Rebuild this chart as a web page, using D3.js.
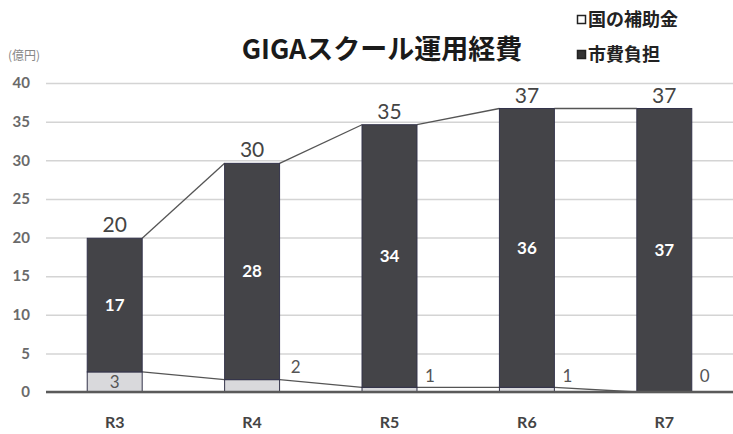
<!DOCTYPE html>
<html>
<head>
<meta charset="utf-8">
<script src="https://cdn.jsdelivr.net/npm/d3@7"></script>
<style>
  body { margin: 0; background: #fff; }
  svg { display: block; }
</style>
</head>
<body>
<div class="vis-chart"></div>
<script>
// data
const years = ["R3", "R4", "R5", "R6", "R7"];
const subsidy = [2.6, 1.6, 0.6, 0.6, 0];      // 国の補助金
const cityCost = [17.3, 28.0, 34.0, 36.1, 36.7]; // 市費負担
const yTicks = [0, 5, 10, 15, 20, 25, 30, 35, 40];

const W = 733, H = 434;
const margin = {top: 83, right: 0, bottom: 42, left: 46};
const width = W - margin.left - margin.right;
const height = H - margin.top - margin.bottom;
const numFont = "Lato, 'Noto Sans', sans-serif";
const jpFont = "'Noto Sans CJK JP', sans-serif";

let svg = d3.select('.vis-chart')
            .append('svg')
            .attr('width', W)
            .attr('height', H);

let g = svg.append("g")
           .attr("transform", "translate(" + margin.left + "," + margin.top + ")");

let xScale = d3.scaleBand()
        .domain(years)
        .range([0, width])
        .paddingInner(0.6)
        .paddingOuter(0.3);

let yScale = d3.scaleLinear()
        .domain([0, 40])
        .range([height, 0]);

// grid lines
g.append("g")
    .call(d3.axisLeft(yScale).tickValues(yTicks).tickSize(-width).tickFormat(""))
    .call(s => s.select(".domain").remove())
    .selectAll("line")
    .attr("stroke", "#d4d4d4")
    .attr("stroke-width", 1.5);

// y axis labels
g.append("g")
    .call(d3.axisLeft(yScale).tickValues(yTicks).tickSize(0).tickPadding(16))
    .call(s => s.select(".domain").remove())
    .selectAll("text")
    .style("font-family", numFont)
    .style("font-size", "15px")
    .style("font-weight", "bold")
    .attr("fill", "#6a6a6a");

// stacked data
let stack = years.map(function(d, i){
    return {year: d, s0: 0, s1: subsidy[i], c0: subsidy[i], c1: subsidy[i] + cityCost[i]};
});

// series lines (top-right of a segment to top-left of the next bar's segment)
const lineColor = "#555";
for (let i = 0; i < stack.length - 1; i++) {
    let a = stack[i], b = stack[i + 1];
    let x1 = xScale(a.year) + xScale.bandwidth();
    let x2 = xScale(b.year);
    g.append("line")
        .attr("x1", x1).attr("x2", x2)
        .attr("y1", yScale(a.s1)).attr("y2", yScale(b.s1))
        .attr("stroke", lineColor).attr("stroke-width", 1.3);
    g.append("line")
        .attr("x1", x1).attr("x2", x2)
        .attr("y1", yScale(a.c1)).attr("y2", yScale(b.c1))
        .attr("stroke", lineColor).attr("stroke-width", 1.3);
}

// subsidy segments
g.selectAll(".sub")
    .data(stack)
    .enter()
    .append("rect")
    .attr("class", "sub")
    .attr("x", d => xScale(d.year))
    .attr("width", xScale.bandwidth())
    .attr("y", d => yScale(d.s1))
    .attr("height", d => yScale(d.s0) - yScale(d.s1))
    .attr("fill", "#d9d9dc")
    .attr("stroke", "#33334a")
    .attr("stroke-width", 1);

// city segments
g.selectAll(".city")
    .data(stack)
    .enter()
    .append("rect")
    .attr("class", "city")
    .attr("x", d => xScale(d.year))
    .attr("width", xScale.bandwidth())
    .attr("y", d => yScale(d.c1))
    .attr("height", d => yScale(d.c0) - yScale(d.c1))
    .attr("fill", "#444448")
    .attr("stroke", "#33334a")
    .attr("stroke-width", 1);

// baseline
g.append("line")
    .attr("x1", 0).attr("x2", width)
    .attr("y1", yScale(0)).attr("y2", yScale(0))
    .attr("stroke", "#5a5a5a")
    .attr("stroke-width", 2.5);

const fmt = d3.format(".0f");

// city labels (inside)
g.selectAll(".cityLabel")
    .data(stack)
    .enter()
    .append("text")
    .attr("x", d => xScale(d.year) + xScale.bandwidth() / 2)
    .attr("y", d => (yScale(d.c0) + yScale(d.c1)) / 2)
    .attr("dy", "0.35em")
    .attr("text-anchor", "middle")
    .style("font-family", numFont)
    .style("font-size", "17px")
    .style("font-weight", "bold")
    .attr("fill", "#fff")
    .text(d => fmt(d.c1 - d.c0));

// subsidy labels: first inside, others to the right of the bar
g.selectAll(".subLabel")
    .data(stack)
    .enter()
    .append("text")
    .attr("x", (d, i) => i === 0 ? xScale(d.year) + xScale.bandwidth() / 2
                                 : xScale(d.year) + xScale.bandwidth() + (i === 1 ? 16 : 13))
    .attr("y", (d, i) => i === 0 ? (yScale(d.s0) + yScale(d.s1)) / 2
                                 : yScale(i === 1 ? 3.2 : 2.1))
    .attr("dy", "0.35em")
    .attr("text-anchor", "middle")
    .style("font-family", numFont)
    .style("font-size", "17px")
    .attr("fill", "#555")
    .text(d => fmt(d.s1 - d.s0));

// totals above bars
g.selectAll(".total")
    .data(stack)
    .enter()
    .append("text")
    .attr("x", d => xScale(d.year) + xScale.bandwidth() / 2)
    .attr("y", d => yScale(d.c1) - 6)
    .attr("text-anchor", "middle")
    .style("font-family", numFont)
    .style("font-size", "21px")
    .attr("fill", "#444")
    .text(d => fmt(d.c1));

// x labels
g.append("g")
    .attr("transform", "translate(0," + height + ")")
    .call(d3.axisBottom(xScale).tickSize(0).tickPadding(25))
    .call(s => s.select(".domain").remove())
    .selectAll("text")
    .style("font-family", numFont)
    .style("font-size", "16px")
    .style("font-weight", "bold")
    .attr("fill", "#444");

// title
svg.append("text")
    .attr("x", 382)
    .attr("y", 59)
    .attr("text-anchor", "middle")
    .style("font-family", jpFont)
    .style("font-size", "27px")
    .style("font-weight", "bold")
    .attr("fill", "#1a1a1a")
    .text("GIGAスクール運用経費");

// unit
svg.append("text")
    .attr("x", 8)
    .attr("y", 60)
    .style("font-family", jpFont)
    .style("font-size", "12px")
    .attr("fill", "#888")
    .text("(億円)");

// legend
const legendItems = [
    {name: "国の補助金", fill: "#fff", y: 20},
    {name: "市費負担", fill: "#333", y: 55}
];
let legend = svg.selectAll(".legend")
    .data(legendItems)
    .enter()
    .append("g")
    .attr("transform", d => "translate(577," + d.y + ")");
legend.append("rect")
    .attr("x", 0.5).attr("y", -4.5)
    .attr("width", 8).attr("height", 8)
    .attr("fill", d => d.fill)
    .attr("stroke", "#222")
    .attr("stroke-width", 1.5);
legend.append("text")
    .attr("x", 11)
    .attr("dy", "0.35em")
    .style("font-family", jpFont)
    .style("font-size", "18px")
    .style("font-weight", "bold")
    .attr("fill", "#222")
    .text(d => d.name);
</script>
</body>
</html>
